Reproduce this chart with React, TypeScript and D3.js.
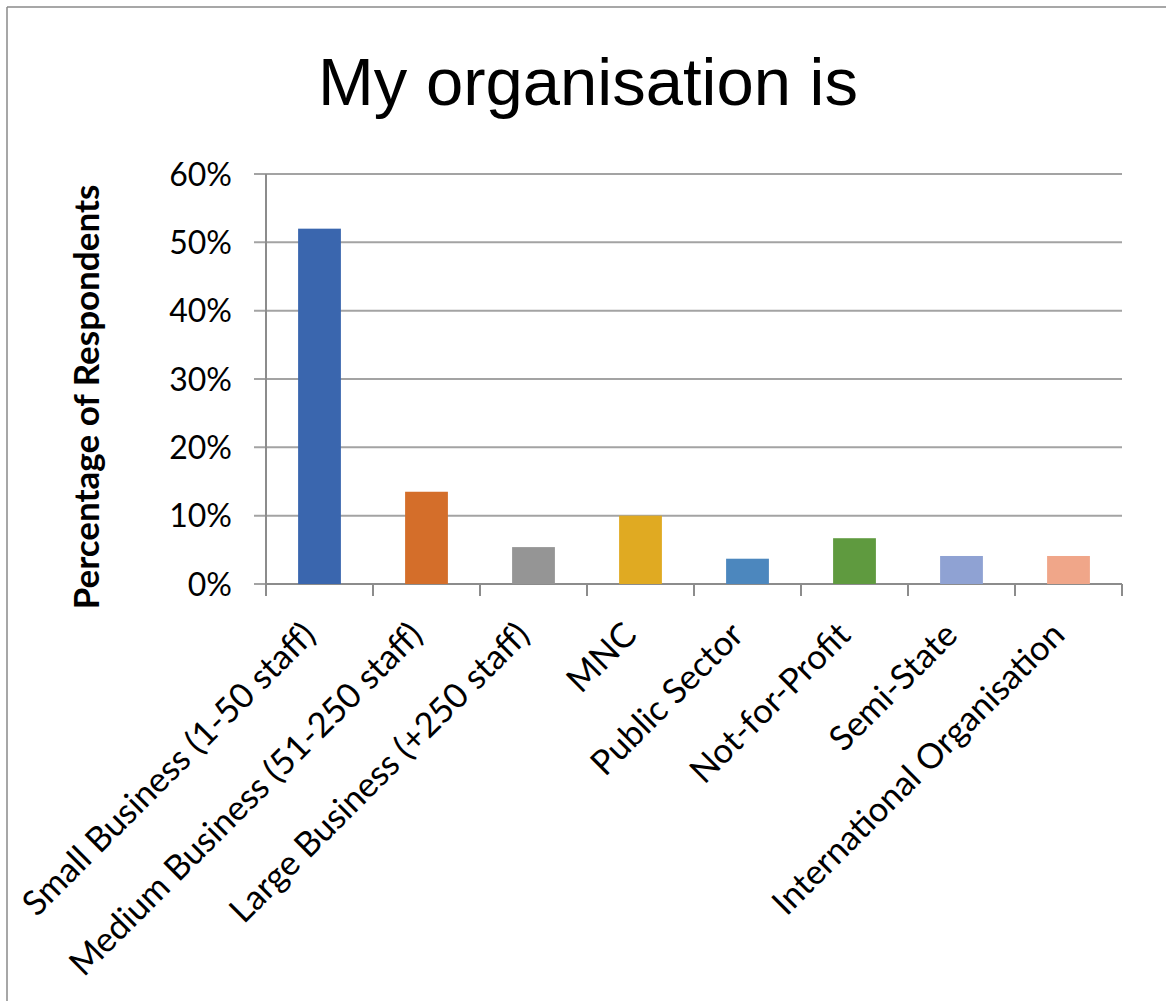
import React from "react";
import * as d3 from "d3";

const categories = [
  "Small Business (1-50 staff)",
  "Medium Business (51-250 staff)",
  "Large Business (+250 staff)",
  "MNC",
  "Public Sector",
  "Not-for-Profit",
  "Semi-State",
  "International Organisation",
];
const values = [0.52, 0.135, 0.054, 0.1, 0.037, 0.067, 0.041, 0.041];
const colors = ["#3A66AE", "#D46E2A", "#959595", "#E0AA22", "#4C87BE", "#5F9A3F", "#8FA2D3", "#F0A689"];
const yTicks = [0, 0.1, 0.2, 0.3, 0.4, 0.5, 0.6];
const title = "My organisation is";
const yTitle = "Percentage of Respondents";

const W = 1166;
const H = 1001;
const plot = { left: 266, right: 1122, top: 174, bottom: 584 };
const font = "Lato, 'Open Sans', sans-serif";

export default function App() {
  const x = d3
    .scaleBand<string>()
    .domain(categories)
    .range([plot.left, plot.right])
    .paddingInner(0.6)
    .paddingOuter(0.3);
  const y = d3.scaleLinear().domain([0, 0.6]).range([plot.bottom, plot.top]);
  const step = x.step();
  const fmt = d3.format(".0%");
  const boundaries = d3.range(categories.length + 1).map((i) => plot.left + i * step);

  return (
    <svg
      width={W}
      height={H}
      style={{ position: "absolute", left: 0, top: 0, display: "block", background: "#fff" }}
    >
      <rect x={0} y={0} width={W} height={H} fill="#fff" />
      <line x1={7} y1={7} x2={W} y2={7} stroke="#8a8a8a" strokeWidth={1.5} />
      <line x1={7} y1={7} x2={7} y2={H} stroke="#8a8a8a" strokeWidth={1.5} />
      <text
        x={588}
        y={105}
        textAnchor="middle"
        fontFamily="'Liberation Sans', Arial, sans-serif"
        fontSize={67}
        fill="#000"
      >
        {title}
      </text>
      {yTicks.map((t) => (
        <g key={t}>
          <line
            x1={plot.left - 12}
            x2={plot.right}
            y1={y(t)}
            y2={y(t)}
            stroke="#a3a3a3"
            strokeWidth={2}
          />
          <text
            x={232}
            y={y(t)}
            dy="0.36em"
            textAnchor="end"
            fontFamily={font}
            fontSize={32}
            fill="#000"
          >
            {fmt(t)}
          </text>
        </g>
      ))}
      <line x1={plot.left} x2={plot.left} y1={plot.top} y2={plot.bottom} stroke="#8c8c8c" strokeWidth={2} />
      {boundaries.map((bx, i) => (
        <line key={i} x1={bx} x2={bx} y1={plot.bottom} y2={plot.bottom + 12} stroke="#8c8c8c" strokeWidth={2} />
      ))}
      <line x1={plot.left} x2={plot.right} y1={plot.bottom} y2={plot.bottom} stroke="#8c8c8c" strokeWidth={2} />
      {categories.map((c, i) => (
        <rect
          key={c}
          x={x(c)}
          y={y(values[i])}
          width={x.bandwidth()}
          height={plot.bottom - y(values[i])}
          fill={colors[i]}
        />
      ))}
      {categories.map((c) => {
        const cx = (x(c) as number) + x.bandwidth() / 2;
        const ax = cx - 2;
        const ay = 637;
        return (
          <text
            key={c}
            transform={`translate(${ax},${ay}) rotate(-45)`}
            textAnchor="end"
            fontFamily={font}
            fontSize={34.5}
            fill="#000"
          >
            {c}
          </text>
        );
      })}
      <text
        transform={`translate(99,397) rotate(-90)`}
        textAnchor="middle"
        fontFamily={font}
        fontWeight="bold"
        fontSize={35}
        fill="#000"
      >
        {yTitle}
      </text>
    </svg>
  );
}
